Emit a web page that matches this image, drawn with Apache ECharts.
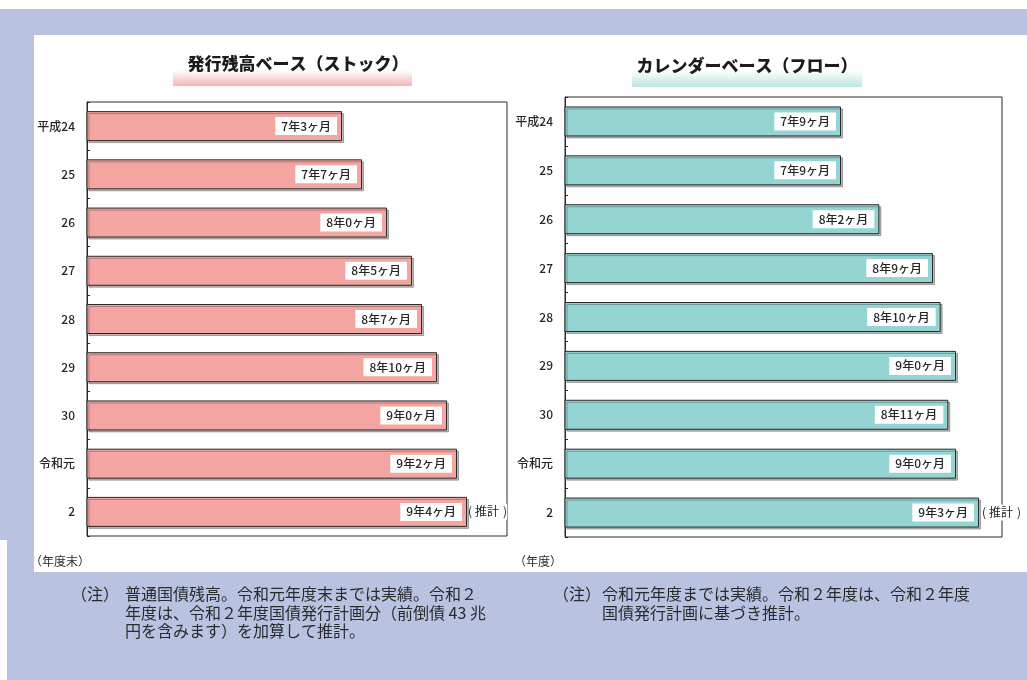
<!DOCTYPE html>
<html>
<head>
<meta charset="utf-8">
<script src="https://cdn.jsdelivr.net/npm/echarts@6/dist/echarts.min.js"></script>
<style>
  html, body { margin: 0; padding: 0; background: #fff; }
  #chart { width: 1027px; height: 680px; }
</style>
</head>
<body>
<div id="chart"></div>
<script>
// 年度区分（上から順）
const categories = ['平成24', '25', '26', '27', '28', '29', '30', '令和元', '2'];

// 発行残高ベース（ストック）の平均償還年限（月数）
const stockMonths = [87, 91, 96, 101, 103, 106, 108, 110, 112];
// カレンダーベース（フロー）の平均償還年限（月数）
const flowMonths = [93, 93, 98, 105, 106, 108, 107, 108, 111];
// 推計値の注記
const estimateNotes = ['', '', '', '', '', '', '', '', '推計'];

const stockTitle = '発行残高ベース（ストック）';
const flowTitle = 'カレンダーベース（フロー）';
const stockUnit = '（年度末）';
const flowUnit = '（年度）';
const stockNote = ['（注）', '普通国債残高。令和元年度末までは実績。令和２', '年度は、令和２年度国債発行計画分（前倒債 43 兆', '円を含みます）を加算して推計。'];
const flowNote = ['（注）', '令和元年度までは実績。令和２年度は、令和２年度', '国債発行計画に基づき推計。'];

const FONT = '"Noto Sans CJK JP", "Noto Sans", sans-serif';
const LAVENDER = '#b9c3e1';

function toYearMonth(m) {
  return Math.floor(m / 12) + '年' + (m % 12) + 'ヶ月';
}

function noteData(values, notes) {
  return values.map((v, i) => notes[i]
    ? { value: v, label: { show: true, formatter: '{p|(}{t|' + notes[i] + '}{q|)}' } }
    : { value: v });
}

function mainSeries(idx, values, color) {
  return {
    type: 'bar',
    xAxisIndex: idx,
    yAxisIndex: idx,
    data: values,
    barWidth: 30,
    itemStyle: {
      color: color,
      borderColor: '#2a2a2a',
      borderWidth: 1,
      shadowColor: 'rgba(0,0,0,0.28)',
      shadowOffsetX: 2,
      shadowOffsetY: 2,
      shadowBlur: 0
    },
    label: {
      show: true,
      position: 'insideRight',
      distance: 5,
      formatter: p => toYearMonth(p.value),
      backgroundColor: '#fff',
      padding: [3, 6, 3, 6],
      color: '#262626',
      fontSize: 12,
      fontWeight: 500,
      fontFamily: FONT
    },
    emphasis: { disabled: true },
    z: 3
  };
}

function noteSeries(idx, values, shift) {
  const base = { color: '#262626', fontSize: 12, fontFamily: FONT };
  const rich = {
    p: Object.assign({ padding: [2, 3, 2, 0] }, base),
    t: Object.assign({ backgroundColor: '#fff', padding: [2, 0, 2, 0] }, base),
    q: Object.assign({ backgroundColor: '#fff', padding: [2, 0, 2, 4] }, base)
  };
  return {
    type: 'bar',
    xAxisIndex: idx,
    yAxisIndex: idx,
    data: noteData(values, estimateNotes),
    barWidth: 30,
    barGap: '-100%',
    itemStyle: { color: 'rgba(0,0,0,0)' },
    label: {
      show: false,
      position: 'right',
      distance: 0,
      offset: [shift, 0],
      rich: rich
    },
    emphasis: { disabled: true },
    silent: true,
    z: 4
  };
}

function catAxis(idx) {
  return {
    type: 'category',
    gridIndex: idx,
    data: categories,
    inverse: true,
    axisLine: { show: true, lineStyle: { color: '#2a2a2a', width: 1 } },
    axisTick: { show: true, inside: true, length: 3, lineStyle: { color: '#2a2a2a' } },
    axisLabel: { margin: 12, color: '#262626', fontSize: 12, fontWeight: 500, fontFamily: FONT }
  };
}

function valAxis(idx, min, max) {
  return {
    type: 'value',
    gridIndex: idx,
    min: min,
    max: max,
    show: false,
    splitLine: { show: false }
  };
}

function noteLines(lines, x0, x1, y0, step) {
  const out = [{
    type: 'text', x: x0, y: y0, z: 100,
    style: { text: lines[0], font: '16px ' + FONT, fill: '#2b2b2b', textVerticalAlign: 'middle' }
  }];
  for (let i = 1; i < lines.length; i++) {
    out.push({
      type: 'text', x: x1, y: y0 + (i - 1) * step, z: 100,
      style: { text: lines[i], font: '16px ' + FONT, fill: '#2b2b2b', textVerticalAlign: 'middle' }
    });
  }
  return out;
}

const chart = echarts.init(document.getElementById('chart'), null, { renderer: 'canvas' });

chart.setOption({
  animation: false,
  backgroundColor: '#fff',
  grid: [
    { left: 87, top: 102, width: 420, height: 434, show: true, borderColor: '#2a2a2a', borderWidth: 1, backgroundColor: '#fff' },
    { left: 565, top: 97, width: 437, height: 440, show: true, borderColor: '#2a2a2a', borderWidth: 1, backgroundColor: '#fff' }
  ],
  xAxis: [valAxis(0, 36, 120), valAxis(1, 57, 114)],
  yAxis: [catAxis(0), catAxis(1)],
  series: [
    mainSeries(0, stockMonths, '#f4a5a1'),
    noteSeries(0, stockMonths, 1),
    mainSeries(1, flowMonths, '#94d5d4'),
    noteSeries(1, flowMonths, 3)
  ],
  graphic: [
    // page background panels
    { type: 'rect', z: -20, shape: { x: 0, y: 9, width: 1027, height: 671 }, style: { fill: LAVENDER } },
    { type: 'rect', z: -19, shape: { x: 0, y: 540, width: 7, height: 140 }, style: { fill: '#fff' } },
    { type: 'rect', z: -18, shape: { x: 34, y: 35, width: 993, height: 537 }, style: { fill: '#fff' } },
    // title underlays
    { type: 'rect', z: -10, shape: { x: 173, y: 70, width: 239, height: 16 },
      style: { fill: new echarts.graphic.LinearGradient(0, 0, 0, 1, [
        { offset: 0, color: '#ffffff' }, { offset: 1, color: '#f5b4b4' }]) } },
    { type: 'rect', z: -10, shape: { x: 632, y: 70, width: 230, height: 17 },
      style: { fill: new echarts.graphic.LinearGradient(0, 0, 0, 1, [
        { offset: 0, color: '#ffffff' }, { offset: 1, color: '#bde5e2' }]) } },
    { type: 'text', x: 298, y: 64, z: 100,
      style: { text: stockTitle, font: '900 17px ' + FONT, fill: '#1c1c1c', textAlign: 'center', textVerticalAlign: 'middle' } },
    { type: 'text', x: 747, y: 66, z: 100,
      style: { text: flowTitle, font: '900 17px ' + FONT, fill: '#1c1c1c', textAlign: 'center', textVerticalAlign: 'middle' } },
    // unit labels under the axes
    { type: 'text', x: 30, y: 561, z: 100,
      style: { text: stockUnit, font: '12px ' + FONT, fill: '#2b2b2b', textVerticalAlign: 'middle' } },
    { type: 'text', x: 514, y: 561, z: 100,
      style: { text: flowUnit, font: '12px ' + FONT, fill: '#2b2b2b', textVerticalAlign: 'middle' } },
    ...noteLines(stockNote, 71, 125, 594, 18.5),
    ...noteLines(flowNote, 553, 602, 594, 18.5)
  ]
});
</script>
</body>
</html>
